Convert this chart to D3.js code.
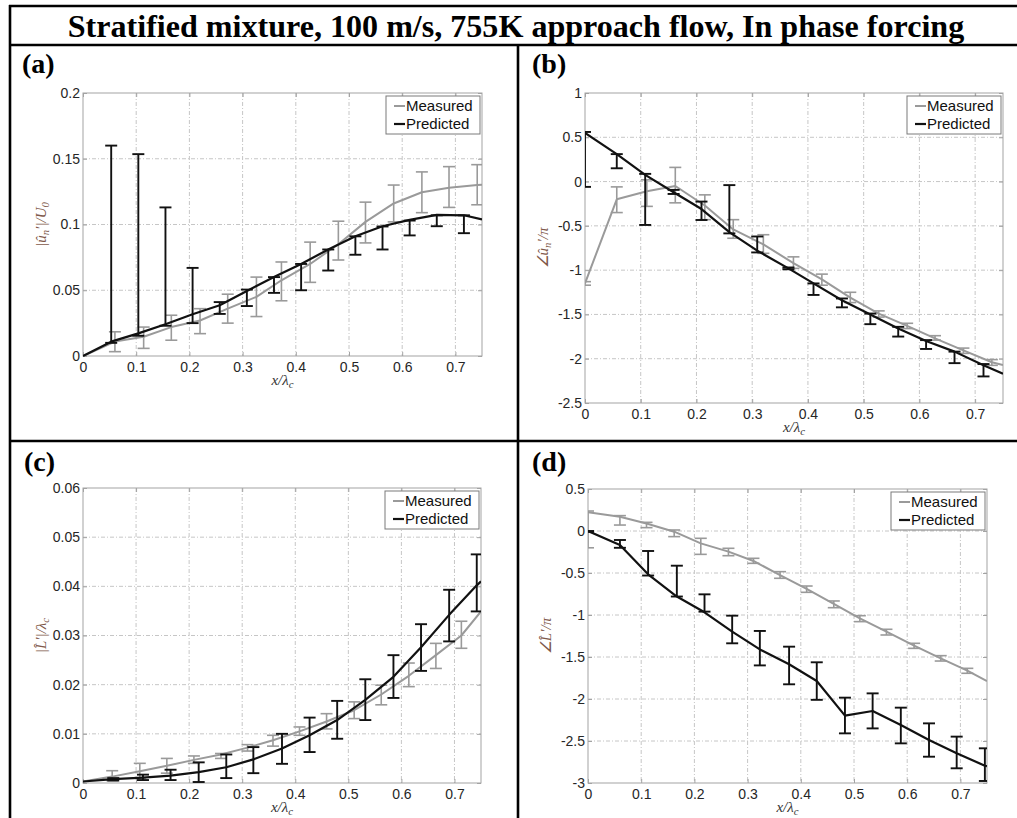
<!DOCTYPE html>
<html>
<head>
<meta charset="utf-8">
<script src="https://cdn.jsdelivr.net/npm/d3@7"></script>
<style>
  body { margin: 0; background: #fff; }
  svg { display: block; }
</style>
</head>
<body>
<script>
// ---------- data ----------
const titleText = "Stratified mixture, 100 m/s, 755K approach flow, In phase forcing";
const seriesNames = ["Measured", "Predicted"];
const xTicks = [0, 0.1, 0.2, 0.3, 0.4, 0.5, 0.6, 0.7];

// (a) |u_n'|/U0
const aYTicks = [0, 0.05, 0.1, 0.15, 0.2];
const aMeasX  = [0, 0.060, 0.114, 0.166, 0.220, 0.272, 0.326, 0.373, 0.427, 0.480, 0.531, 0.584, 0.637, 0.688, 0.741, 0.750];
const aMeasY  = [0, 0.011, 0.0146, 0.022, 0.027, 0.036, 0.045, 0.0576, 0.070, 0.085, 0.102, 0.116, 0.1245, 0.128, 0.130, 0.1302];
const aMeasHi = [null, 0.0184, 0.022, 0.031, 0.036, 0.047, 0.060, 0.0715, 0.0866, 0.1025, 0.117, 0.130, 0.140, 0.144, 0.1455, null];
const aMeasLo = [null, 0.0033, 0.0058, 0.012, 0.017, 0.025, 0.030, 0.042, 0.056, 0.073, 0.086, 0.102, 0.109, 0.113, 0.115, null];
const aPredX  = [0, 0.053, 0.104, 0.155, 0.206, 0.257, 0.308, 0.359, 0.410, 0.461, 0.512, 0.563, 0.614, 0.665, 0.716, 0.750];
const aPredY  = [0, 0.0109, 0.0172, 0.0242, 0.0318, 0.0386, 0.0495, 0.060, 0.070, 0.081, 0.091, 0.0987, 0.1035, 0.1073, 0.107, 0.1038];
const aPredHi = [null, 0.160, 0.1535, 0.113, 0.067, 0.041, 0.0505, 0.060, 0.070, 0.081, 0.091, 0.0985, 0.103, 0.107, 0.107, null];
const aPredLo = [null, 0.010, 0.0154, 0.023, 0.025, 0.032, 0.038, 0.048, 0.050, 0.065, 0.077, 0.081, 0.0917, 0.0987, 0.0934, null];

// (b) phase of u_n' / pi
const bYTicks = [-2.5, -2, -1.5, -1, -0.5, 0, 0.5, 1];
const bMeasX  = [0, 0.057, 0.111, 0.162, 0.215, 0.266, 0.320, 0.374, 0.425, 0.476, 0.527, 0.578, 0.628, 0.679, 0.730, 0.750];
const bMeasY  = [-1.15, -0.20, -0.11, -0.05, -0.27, -0.54, -0.71, -0.92, -1.105, -1.31, -1.49, -1.63, -1.77, -1.905, -2.04, -2.07];
const bMeasHi = [-1.13, -0.06, 0.02, 0.16, -0.15, -0.43, -0.60, -0.85, -1.045, -1.25, -1.46, -1.60, -1.74, -1.88, -2.01, null];
const bMeasLo = [-1.17, -0.35, -0.28, -0.24, -0.43, -0.64, -0.81, -0.98, -1.17, -1.366, -1.53, -1.66, -1.79, -1.94, -2.075, null];
const bPredX  = [0, 0.057, 0.108, 0.159, 0.209, 0.259, 0.309, 0.365, 0.410, 0.461, 0.512, 0.562, 0.612, 0.663, 0.715, 0.750];
const bPredY  = [0.55, 0.31, 0.075, -0.12, -0.31, -0.57, -0.78, -0.98, -1.15, -1.34, -1.50, -1.66, -1.80, -1.92, -2.075, -2.17];
const bPredHi = [0.56, 0.31, 0.087, -0.094, -0.226, -0.04, -0.62, -0.97, -1.15, -1.32, -1.49, -1.64, -1.79, -1.92, -2.06, null];
const bPredLo = [-0.06, 0.15, -0.49, -0.14, -0.434, -0.585, -0.80, -0.99, -1.28, -1.42, -1.61, -1.75, -1.89, -2.05, -2.20, null];

// (c) |L'|/lambda_c
const cYTicks = [0, 0.01, 0.02, 0.03, 0.04, 0.05, 0.06];
const cMeasX  = [0, 0.055, 0.107, 0.158, 0.209, 0.260, 0.310, 0.358, 0.408, 0.459, 0.511, 0.562, 0.614, 0.665, 0.713, 0.750];
const cMeasY  = [0.0003, 0.0013, 0.0024, 0.0035, 0.0047, 0.0058, 0.0072, 0.0087, 0.0105, 0.0125, 0.0148, 0.018, 0.0218, 0.026, 0.030, 0.0349];
const cMeasHi = [null, 0.0025, 0.004, 0.005, 0.0055, 0.006, 0.0078, 0.0097, 0.0114, 0.0141, 0.0165, 0.0199, 0.0244, 0.0284, 0.0329, null];
const cMeasLo = [null, 0.0005, 0.001, 0.002, 0.004, 0.005, 0.0065, 0.0075, 0.0097, 0.011, 0.0131, 0.0159, 0.0196, 0.0233, 0.0274, null];
const cPredX  = [0, 0.057, 0.113, 0.165, 0.218, 0.270, 0.321, 0.375, 0.427, 0.479, 0.532, 0.585, 0.637, 0.690, 0.742, 0.750];
const cPredY  = [0.0003, 0.0008, 0.0011, 0.0015, 0.0022, 0.0032, 0.0048, 0.007, 0.0097, 0.0128, 0.0169, 0.0216, 0.0276, 0.0342, 0.0402, 0.041];
const cPredHi = [null, 0.001, 0.0017, 0.0027, 0.0042, 0.0058, 0.0073, 0.010, 0.0133, 0.0167, 0.0211, 0.026, 0.0323, 0.0393, 0.0465, null];
const cPredLo = [null, 0.0005, 0.0006, 0.0006, 0.0002, 0.001, 0.002, 0.0039, 0.0063, 0.009, 0.0128, 0.0173, 0.0228, 0.0288, 0.0349, null];

// (d) phase of L' / pi
const dYTicks = [-3, -2.5, -2, -1.5, -1, -0.5, 0, 0.5];
const dMeasX  = [0, 0.060, 0.110, 0.162, 0.212, 0.264, 0.311, 0.361, 0.411, 0.462, 0.511, 0.561, 0.613, 0.663, 0.713, 0.750];
const dMeasY  = [0.222, 0.17, 0.09, -0.008, -0.147, -0.246, -0.357, -0.524, -0.69, -0.869, -1.04, -1.198, -1.365, -1.516, -1.663, -1.786];
const dMeasHi = [0.238, 0.183, 0.103, 0.012, -0.087, -0.206, -0.325, -0.484, -0.655, -0.833, -1.008, -1.17, -1.337, -1.484, -1.635, null];
const dMeasLo = [-0.20, 0.071, 0.04, -0.067, -0.278, -0.294, -0.385, -0.563, -0.73, -0.913, -1.079, -1.238, -1.397, -1.548, -1.694, null];
const dPredX  = [0, 0.060, 0.113, 0.167, 0.219, 0.271, 0.323, 0.378, 0.430, 0.483, 0.535, 0.588, 0.641, 0.693, 0.746, 0.750];
const dPredY  = [0, -0.167, -0.516, -0.78, -0.968, -1.198, -1.41, -1.587, -1.786, -2.198, -2.143, -2.31, -2.488, -2.647, -2.794, -2.80];
const dPredHi = [0, -0.107, -0.238, -0.413, -0.754, -1.008, -1.19, -1.377, -1.563, -1.984, -1.933, -2.103, -2.29, -2.448, -2.587, null];
const dPredLo = [-0.01, -0.20, -0.53, -0.78, -0.96, -1.337, -1.60, -1.825, -2.01, -2.409, -2.35, -2.528, -2.687, -2.825, -2.976, null];

// ---------- page layout ----------
const W = 1017, H = 818;
const svg = d3.select("body").append("svg").attr("width", W).attr("height", H);
svg.append("rect").attr("width", W).attr("height", H).attr("fill", "#fff");

// table rules around the title and the four cells
const rules = [
  [9, 6, W, 6],        // top
  [9, 45, W, 45],      // under the title
  [9, 441, W, 441],    // between rows
  [10, 5, 10, H],      // left
  [518, 45, 518, H]    // between columns
];
svg.append("g").selectAll("line").data(rules).join("line")
  .attr("x1", d => d[0]).attr("y1", d => d[1]).attr("x2", d => d[2]).attr("y2", d => d[3])
  .attr("stroke", "#000").attr("stroke-width", 2.6);

// title, sized to span its row
const title = svg.append("text")
  .attr("x", 516).attr("y", 37).attr("text-anchor", "middle")
  .attr("font-family", "'Liberation Serif', 'Times New Roman', serif")
  .attr("font-weight", "bold").attr("font-size", 32).attr("fill", "#000")
  .text(titleText);
const tLen = title.node().getComputedTextLength();
title.attr("font-size", 32 * 897 / tLen);

const MEAS = "#9a9a9a", PRED = "#111";
const AXIS = "#a3a3a3", LABEL_COL = "#80584a";

const panels = [
  { tag: "(a)", tagX: 22, tagY: 73, left: 83,  right: 482,  top: 93,  bottom: 356, yDom: [0, 0.2],   yTicks: aYTicks,
    ylab: [["|û", ""], ["n", "sub"], ["′|/U", ""], ["0", "sub"]],
    meas: { x: aMeasX, y: aMeasY, hi: aMeasHi, lo: aMeasLo },
    pred: { x: aPredX, y: aPredY, hi: aPredHi, lo: aPredLo } },
  { tag: "(b)", tagX: 532, tagY: 73, left: 585, right: 1003, top: 93,  bottom: 403, yDom: [-2.5, 1], yTicks: bYTicks,
    ylab: [["∠û", ""], ["n", "sub"], ["′/π", ""]],
    meas: { x: bMeasX, y: bMeasY, hi: bMeasHi, lo: bMeasLo },
    pred: { x: bPredX, y: bPredY, hi: bPredHi, lo: bPredLo } },
  { tag: "(c)", tagX: 24, tagY: 471, left: 83,  right: 481,  top: 488, bottom: 783, yDom: [0, 0.06],  yTicks: cYTicks,
    ylab: [["|L̂′|/λ", ""], ["c", "sub"]],
    meas: { x: cMeasX, y: cMeasY, hi: cMeasHi, lo: cMeasLo },
    pred: { x: cPredX, y: cPredY, hi: cPredHi, lo: cPredLo } },
  { tag: "(d)", tagX: 532, tagY: 471, left: 588, right: 987,  top: 489, bottom: 783, yDom: [-3, 0.5], yTicks: dYTicks,
    ylab: [["∠L̂′/π", ""]],
    meas: { x: dMeasX, y: dMeasY, hi: dMeasHi, lo: dMeasLo },
    pred: { x: dPredX, y: dPredY, hi: dPredHi, lo: dPredLo } }
];

const fmt = v => String(+v.toFixed(4));

function addMathText(sel, parts, size) {
  parts.forEach(([txt, kind]) => {
    const t = sel.append("tspan").text(txt);
    if (kind === "sub") t.attr("font-size", size * 0.72).attr("dy", size * 0.22);
    else if (sel.selectAll("tspan").size() > 1) t.attr("dy", -size * 0.22);
  });
}

panels.forEach((p, i) => {
  const g = svg.append("g");
  const x = d3.scaleLinear().domain([0, 0.75]).range([p.left, p.right]);
  const y = d3.scaleLinear().domain(p.yDom).range([p.bottom, p.top]);

  // panel letter
  g.append("text").attr("x", p.tagX).attr("y", p.tagY)
    .attr("font-family", "'Liberation Serif', 'Times New Roman', serif")
    .attr("font-weight", "bold").attr("font-size", 28).text(p.tag);

  // dotted grid
  const grid = g.append("g").attr("stroke", "#c6c6c6").attr("stroke-width", 1).attr("stroke-dasharray", "4,2,1,2");
  grid.selectAll(".gx").data(xTicks.filter(t => t > 0)).join("line")
    .attr("x1", d => x(d)).attr("x2", d => x(d)).attr("y1", p.top).attr("y2", p.bottom);
  grid.selectAll(".gy").data(p.yTicks.filter(t => t > p.yDom[0] && t < p.yDom[1])).join("line")
    .attr("y1", d => y(d)).attr("y2", d => y(d)).attr("x1", p.left).attr("x2", p.right);

  // axes with inward ticks on all four sides
  const styleAxis = (ax) => {
    ax.select(".domain").remove();
    ax.selectAll(".tick line").attr("stroke", AXIS);
    ax.selectAll("text").attr("fill", "#262626")
      .attr("font-family", "'Liberation Sans', Arial, Helvetica, sans-serif").attr("font-size", 14);
  };
  g.append("g").attr("transform", `translate(0,${p.bottom})`)
    .call(d3.axisBottom(x).tickValues(xTicks).tickSize(-4).tickPadding(6).tickFormat(fmt)).call(styleAxis);
  g.append("g").attr("transform", `translate(0,${p.top})`)
    .call(d3.axisTop(x).tickValues(xTicks).tickSize(-4).tickFormat("")).call(styleAxis);
  g.append("g").attr("transform", `translate(${p.left},0)`)
    .call(d3.axisLeft(y).tickValues(p.yTicks).tickSize(-4).tickPadding(3).tickFormat(fmt)).call(styleAxis);
  g.append("g").attr("transform", `translate(${p.right},0)`)
    .call(d3.axisRight(y).tickValues(p.yTicks).tickSize(-4).tickFormat("")).call(styleAxis);
  g.append("rect").attr("x", p.left).attr("y", p.top)
    .attr("width", p.right - p.left).attr("height", p.bottom - p.top)
    .attr("fill", "none").attr("stroke", AXIS).attr("stroke-width", 1);

  // axis titles
  const xl = g.append("text").attr("x", (p.left + p.right) / 2).attr("y", p.bottom + 29)
    .attr("text-anchor", "middle").attr("font-family", "'Liberation Serif', 'Times New Roman', serif")
    .attr("font-style", "italic").attr("font-size", 15).attr("fill", "#333");
  addMathText(xl, [["x/λ", ""], ["c", "sub"]], 15);
  const yl = g.append("text")
    .attr("transform", `translate(${p.left - 37},${(p.top + p.bottom) / 2}) rotate(-90)`)
    .attr("text-anchor", "middle").attr("font-family", "'Liberation Serif', 'Times New Roman', serif")
    .attr("font-style", "italic").attr("font-size", 15).attr("fill", LABEL_COL);
  addMathText(yl, p.ylab, 15);

  // data, clipped to the axes box
  const clipId = "clip" + i;
  svg.append("clipPath").attr("id", clipId).append("rect")
    .attr("x", p.left).attr("y", p.top - 1).attr("width", p.right - p.left).attr("height", p.bottom - p.top + 2);
  const plot = g.append("g").attr("clip-path", `url(#${clipId})`);

  const drawSeries = (s, color, lw, bw) => {
    const pts = s.x.map((xv, k) => ({ x: xv, y: s.y[k], hi: s.hi[k], lo: s.lo[k] }));
    plot.append("path").datum(pts)
      .attr("d", d3.line().x(d => x(d.x)).y(d => y(d.y)))
      .attr("fill", "none").attr("stroke", color).attr("stroke-width", lw).attr("stroke-linejoin", "round");
    const bars = plot.append("g").attr("stroke", color).attr("stroke-width", bw)
      .selectAll("g").data(pts.filter(d => d.hi != null && d.lo != null)).join("g");
    bars.append("line").attr("x1", d => x(d.x)).attr("x2", d => x(d.x)).attr("y1", d => y(d.hi)).attr("y2", d => y(d.lo));
    bars.append("line").attr("x1", d => x(d.x) - 6).attr("x2", d => x(d.x) + 6).attr("y1", d => y(d.hi)).attr("y2", d => y(d.hi));
    bars.append("line").attr("x1", d => x(d.x) - 6).attr("x2", d => x(d.x) + 6).attr("y1", d => y(d.lo)).attr("y2", d => y(d.lo));
  };
  drawSeries(p.meas, MEAS, 2, 1.6);
  drawSeries(p.pred, PRED, 2.2, 1.9);

  // legend
  const lw = 94, lh = 38;
  const lx = p.right - 2 - lw, ly = p.top + 3;
  const lg = g.append("g");
  lg.append("rect").attr("x", lx).attr("y", ly).attr("width", lw).attr("height", lh)
    .attr("fill", "#fff").attr("stroke", "#7a7a7a").attr("stroke-width", 1);
  seriesNames.forEach((name, k) => {
    const cy = ly + 10 + k * 18;
    lg.append("line").attr("x1", lx + 8).attr("x2", lx + 19).attr("y1", cy).attr("y2", cy)
      .attr("stroke", k === 0 ? MEAS : PRED).attr("stroke-width", k === 0 ? 2 : 2.2);
    lg.append("text").attr("x", lx + 20).attr("y", cy + 5)
      .attr("font-family", "'Liberation Sans', Arial, Helvetica, sans-serif").attr("font-size", 15)
      .attr("fill", "#111").text(name);
  });
});
</script>
</body>
</html>
